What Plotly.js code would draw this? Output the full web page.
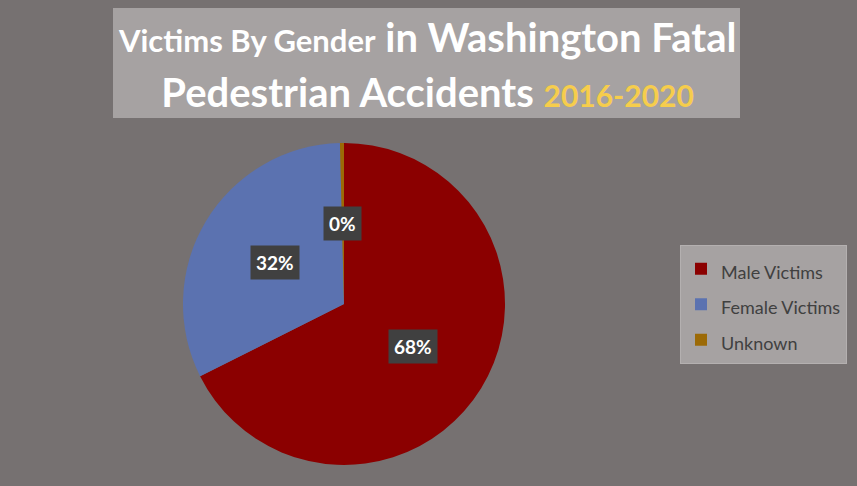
<!DOCTYPE html>
<html>
<head>
<meta charset="utf-8">
<script src="https://cdn.plot.ly/plotly-3.0.1.min.js"></script>
<style>html,body{margin:0;padding:0;background:#767171;}#chart{width:857px;height:486px;}</style>
</head>
<body>
<div id="chart"></div>
<script>
const categories = ["Male Victims", "Female Victims", "Unknown"];
const shares = [67.6, 32.0, 0.4];
const colors = ["#8B0000", "#5B72B0", "#9C6A06"];

const W = 857, H = 486;
const dom = {x: [0.2135, 0.5893], y: [0.0432, 0.7058]};

// label positions computed from the data (mid-angle of each slice, half radius)
const total = shares.reduce((a, b) => a + b, 0);
const cx = (dom.x[0] + dom.x[1]) / 2, cy = (dom.y[0] + dom.y[1]) / 2;
const rpx = Math.min((dom.x[1] - dom.x[0]) * W, (dom.y[1] - dom.y[0]) * H) / 2;
let cum = 0;
const annotations = shares.map((v, i) => {
  const mid = (cum + v / 2) / total * 2 * Math.PI;
  cum += v;
  return {
    xref: 'paper', yref: 'paper',
    x: cx + 0.5 * rpx * Math.sin(mid) / W,
    y: cy + 0.5 * rpx * Math.cos(mid) / H,
    xanchor: 'center', yanchor: 'middle',
    text: '<b>' + Math.round(v / total * 100) + '%</b>',
    showarrow: false,
    font: {family: 'Lato, sans-serif', size: 19, color: '#ffffff'},
    bgcolor: '#404040',
    borderpad: 5
  };
});

const data = [{
  type: 'pie',
  labels: categories.map(c => '<span style="font-size:18px">' + c + '</span>'),
  values: shares,
  sort: false,
  direction: 'clockwise',
  rotation: 0,
  marker: {colors: colors, line: {width: 0}},
  textinfo: 'none',
  hoverinfo: 'skip',
  domain: dom
}];

const layout = {
  width: W, height: H,
  margin: {l: 0, r: 0, t: 0, b: 0, autoexpand: false},
  paper_bgcolor: '#767171',
  plot_bgcolor: '#767171',
  showlegend: true,
  title: {
    text: '<span style="font-size:31px">Victims By Gender</span><span style="font-size:40px"> in Washington Fatal</span><br>' +
          '<span style="font-size:40px">Pedestrian Accidents </span><span style="font-size:30px;color:#F6CD4C">2016-2020</span>',
    font: {family: 'Lato, sans-serif', size: 42, color: '#ffffff', weight: 700},
    x: 0.499, xanchor: 'center',
    y: 0.892, yanchor: 'middle',
    xref: 'paper', yref: 'paper'
  },
  shapes: [{
    type: 'rect', xref: 'paper', yref: 'paper', layer: 'below',
    x0: 113 / W, x1: 740 / W, y0: 1 - 118 / H, y1: 1 - 8 / H,
    fillcolor: '#A6A2A2', line: {width: 0}
  }],
  legend: {
    x: 847 / W, y: 1 - 245 / H, xanchor: 'right', yanchor: 'top',
    bgcolor: '#A6A2A2', bordercolor: '#B4B0B0', borderwidth: 1,
    font: {family: 'Lato, sans-serif', size: 25, color: '#404040'},
    itemclick: false
  },
  annotations: annotations
};

Plotly.newPlot('chart', data, layout, {displayModeBar: false, staticPlot: true});
</script>
</body>
</html>
